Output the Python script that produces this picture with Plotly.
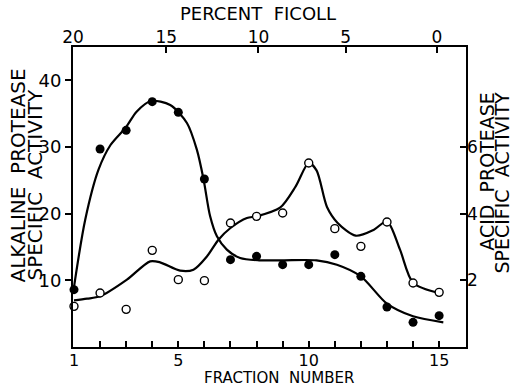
import plotly.graph_objects as go

# ---- data ----
fraction = list(range(1, 16))
alkaline = [8.6, 29.7, 32.5, 36.8, 35.2, 25.2, 13.1, 13.6, 12.35, 12.35, 13.85, 10.6, 6.0, 3.7, 4.7]
acid = [1.22, 1.62, 1.13, 2.9, 2.02, 1.99, 3.72, 3.92, 4.02, 5.52, 3.55, 3.02, 3.75, 1.92, 1.64]

# hand-drawn smooth curves
alk_curve_x = [1.0, 1.43, 1.94, 2.4, 3.0, 3.4, 3.95, 4.69, 5.33, 5.71, 5.97, 6.22, 6.48, 6.86, 7.37,
               8.1, 9.0, 10.3, 11.08, 12.0, 13.0, 14.0, 15.16]
alk_curve_y = [9.0, 19.1, 26.6, 30.3, 33.0, 35.3, 36.9, 36.3, 33.6, 29.6, 25.1, 19.6, 16.6, 14.6, 13.35,
               13.0, 13.0, 13.0, 12.35, 10.6, 6.5, 4.6, 3.7]
acid_curve_x = [1.0, 1.5, 2.0, 3.03, 3.92, 4.3, 5.07, 5.58, 6.1, 6.54, 7.0, 7.63, 8.0, 8.9, 9.5,
                10.0, 10.3, 10.7, 11.1, 11.8, 12.5, 13.0, 13.5, 14.0, 15.0]
acid_curve_y = [1.4, 1.45, 1.52, 2.02, 2.57, 2.54, 2.29, 2.32, 2.72, 3.22, 3.57, 3.87, 3.92, 4.18, 4.82,
                5.52, 5.3, 4.2, 3.73, 3.34, 3.52, 3.77, 2.92, 1.93, 1.62]

bottom_labels = [1, 5, 10, 15]
left_ticks = [10, 20, 30, 40]
right_ticks = [2, 4, 6]
ficoll_labels = ["20", "15", "10", "5", "0"]
ficoll_pos = [0.962, 4.536, 8.073, 11.42, 14.91]  # fraction-number position of each % Ficoll tick

FONT = "DejaVu Sans"
XR = [0.962, 16.03]

fig = go.Figure()
fig.add_trace(go.Scatter(x=alk_curve_x, y=alk_curve_y, mode="lines",
                         line=dict(color="black", width=2.2, shape="spline", smoothing=0.8),
                         showlegend=False, hoverinfo="skip"))
fig.add_trace(go.Scatter(x=acid_curve_x, y=acid_curve_y, yaxis="y2", mode="lines",
                         line=dict(color="black", width=2.2, shape="spline", smoothing=0.8),
                         showlegend=False, hoverinfo="skip"))
fig.add_trace(go.Scatter(x=fraction, y=alkaline, mode="markers", cliponaxis=False,
                         marker=dict(symbol="circle", size=9, color="black"), showlegend=False))
fig.add_trace(go.Scatter(x=fraction, y=acid, yaxis="y2", mode="markers", cliponaxis=False,
                         marker=dict(symbol="circle", size=8, color="white", line=dict(color="black", width=1.4)),
                         showlegend=False))
fig.add_trace(go.Scatter(x=[None], y=[None], xaxis="x2", showlegend=False, hoverinfo="skip"))

fig.update_layout(
    width=515, height=387,
    margin=dict(l=73, r=49, t=47, b=40),
    paper_bgcolor="white", plot_bgcolor="white",
    font=dict(family=FONT, color="black"),
    xaxis=dict(range=XR, tickvals=fraction,
               ticktext=[str(v) if v in bottom_labels else "" for v in fraction],
               ticks="inside", ticklen=6, tickwidth=1.5, tickcolor="black", ticklabelstandoff=-2,
               showline=True, linewidth=2, linecolor="black", mirror=True,
               showgrid=False, zeroline=False, tickfont=dict(size=16)),
    xaxis2=dict(range=XR, overlaying="x", side="top", anchor="y",
                tickvals=ficoll_pos, ticktext=ficoll_labels,
                ticks="inside", ticklen=6, tickwidth=1.5, tickcolor="black",
                showline=False, showgrid=False, zeroline=False, tickfont=dict(size=17)),
    yaxis=dict(range=[0, 45], tickvals=left_ticks, ticks="outside", ticklen=6, tickwidth=1.5,
               tickcolor="black", showline=True, linewidth=2, linecolor="black", mirror=True,
               showgrid=False, zeroline=False, tickfont=dict(size=18)),
    yaxis2=dict(range=[0, 9], overlaying="y", side="right", tickvals=right_ticks,
                ticks="inside", ticklen=6, tickwidth=1.5, tickcolor="black",
                showline=False, showgrid=False, zeroline=False, tickfont=dict(size=17)),
)


def label(text, x, y, size, xanchor="center", yanchor="middle", angle=0):
    fig.add_annotation(text=text, x=x, y=y, xref="paper", yref="paper", showarrow=False,
                       xanchor=xanchor, yanchor=yanchor, textangle=angle,
                       font=dict(family=FONT, size=size, color="black"))


label("FRACTION  NUMBER", 0.523, -0.102, 15)
label("PERCENT  FICOLL", 0.4695, 1.112, 18)
label("ALKALINE  PROTEASE", -0.1412, 0.2067, 20, yanchor="bottom", angle=-90)
label("SPECIFIC  ACTIVITY", -0.0954, 0.2133, 20, yanchor="bottom", angle=-90)
label("ACID  PROTEASE", 1.054, 0.8567, 19, yanchor="top", angle=-90)
label("SPECIFIC  ACTIVITY", 1.0905, 0.8567, 19, yanchor="top", angle=-90)

fig.write_html("out.html")
